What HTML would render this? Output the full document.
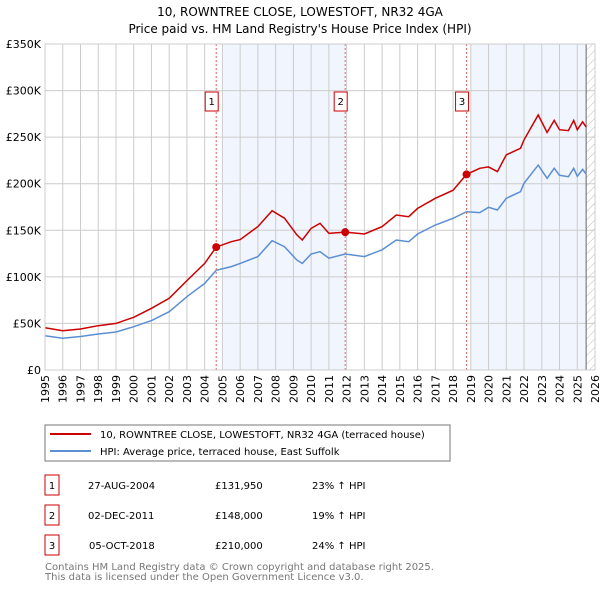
<!DOCTYPE html>
<html><head><meta charset="utf-8"><style>
body{margin:0;background:#fff;font-family:"DejaVu Sans","Liberation Sans",sans-serif;}
svg text{font-family:"DejaVu Sans","Liberation Sans",sans-serif;}
</style></head><body>
<svg id="c" width="600" height="590" xmlns="http://www.w3.org/2000/svg">
<defs><pattern id="hatch" width="6" height="6" patternUnits="userSpaceOnUse" patternTransform="rotate(45)"><line x1="0" y1="0" x2="0" y2="6" stroke="#bbb" stroke-width="1"/></pattern></defs>
<text x="300" y="16" text-anchor="middle" font-size="12">10, ROWNTREE CLOSE, LOWESTOFT, NR32 4GA</text>
<text x="300" y="33" text-anchor="middle" font-size="12">Price paid vs. HM Land Registry's House Price Index (HPI)</text>
<g id="bands"></g><g id="grid"></g><g id="series"></g><g id="markers"></g><g id="axes"></g>
<rect x="45" y="425" width="405" height="36" fill="#fff" stroke="#777"/>
<line x1="50" y1="434" x2="91" y2="434" stroke="#cc0000" stroke-width="2"/>
<text x="100" y="438" font-size="10">10, ROWNTREE CLOSE, LOWESTOFT, NR32 4GA (terraced house)</text>
<line x1="50" y1="451" x2="91" y2="451" stroke="#5b8fd4" stroke-width="2"/>
<text x="100" y="455" font-size="10">HPI: Average price, terraced house, East Suffolk</text>
<g font-size="10">
<rect x="45" y="475" width="14" height="20" fill="#fff" stroke="#cc0000"/><text x="52" y="489" text-anchor="middle">1</text>
<text x="88" y="489">27-AUG-2004</text><text x="215" y="489">£131,950</text><text x="312" y="489">23% ↑ HPI</text>
<rect x="45" y="505" width="14" height="20" fill="#fff" stroke="#cc0000"/><text x="52" y="519" text-anchor="middle">2</text>
<text x="88" y="519">02-DEC-2011</text><text x="215" y="519">£148,000</text><text x="312" y="519">19% ↑ HPI</text>
<rect x="45" y="535" width="14" height="20" fill="#fff" stroke="#cc0000"/><text x="52" y="549" text-anchor="middle">3</text>
<text x="89" y="549">05-OCT-2018</text><text x="215" y="549">£210,000</text><text x="312" y="549">24% ↑ HPI</text>
</g>
<text x="45" y="570" font-size="10" fill="#777">Contains HM Land Registry data © Crown copyright and database right 2025.</text>
<text x="45" y="580" font-size="10" fill="#777">This data is licensed under the Open Government Licence v3.0.</text>
</svg>
<script>
const years=[1995,1996,1997,1998,1999,2000,2001,2002,2003,2004,2004.65,2005.5,2006,2007,2007.8,2008.5,2009.2,2009.5,2010,2010.5,2011,2011.92,2013,2014,2014.8,2015.5,2016,2017,2018,2018.76,2019.5,2020,2020.5,2021,2021.8,2022,2022.8,2023.3,2023.7,2024,2024.5,2024.8,2025,2025.3,2025.5];
const hpiValues=[36.8,34,36,38.6,40.8,46.5,53,62.6,78.7,93,107,111,114.5,121.7,138.8,132.4,118,114.5,124.5,127,120,124.5,121.7,129,139.6,137.7,146,155.7,162.9,170,169,174.7,171.8,184.3,191.4,200.4,220,205.8,216.5,209,207.5,216.5,208,215.4,210.4];
const priceValues=[45.4,42.2,44,47.6,50,56.6,66.2,77,96,114.5,131.95,137.7,140,154,171,163,145,139.6,152,157.5,146.7,148,146,154,166.4,164.6,173.5,184.3,193,210,216.5,218,213,231,238,247,273.8,255,268,258,257,268,258,266.5,261];
const saleYears=[2004.65,2011.92,2018.76];
const salePrices=[131.95,148,210];
const saleLabels=["1","2","3"];
const yTicks=[0,50,100,150,200,250,300,350];
const yTickLabels=["£0","£50K","£100K","£150K","£200K","£250K","£300K","£350K"];
const xTicks=[1995,1996,1997,1998,1999,2000,2001,2002,2003,2004,2005,2006,2007,2008,2009,2010,2011,2012,2013,2014,2015,2016,2017,2018,2019,2020,2021,2022,2023,2024,2025,2026];
const dataEnd=2025.5;
const X0=45,X1=595,Y0=370,Y1=44;
const xs=y=>X0+(y-1995)/(2026-1995)*(X1-X0);
const ys=v=>Y0-v/350*(Y0-Y1);
const NS="http://www.w3.org/2000/svg";
function mk(tag,attrs,parent,text){const e=document.createElementNS(NS,tag);for(const k in attrs)e.setAttribute(k,attrs[k]);if(text!=null)e.textContent=text;document.getElementById(parent).appendChild(e);return e;}
// bands
let b=mk('rect',{x:xs(2005),y:Y1,width:xs(saleYears[1])-xs(2005),height:Y0-Y1,fill:'#eef3fc',opacity:0.8},'bands');


b=mk('rect',{x:xs(2019),y:Y1,width:xs(dataEnd)-xs(2019),height:Y0-Y1,fill:'#eef3fc',opacity:0.8},'bands');


b=mk('rect',{x:xs(dataEnd),y:Y1,width:X1-xs(dataEnd),height:Y0-Y1,fill:'url(#hatch)'},'bands');


// grid
xTicks.forEach(t=>{const l=mk('line',{x1:xs(t),x2:xs(t),y1:Y1,y2:Y0,stroke:'#ccc','stroke-width':1},'grid');


const tx=mk('text',{x:0,y:0,'font-size':11,'text-anchor':'end',transform:`translate(${xs(t)+4},${Y0+5}) rotate(-90)`},'axes',String(t));

});
yTicks.forEach((t,i)=>{const l=mk('line',{x1:X0,x2:X1,y1:ys(t),y2:ys(t),stroke:'#ccc','stroke-width':1},'grid');


const tx=mk('text',{x:X0-4,y:ys(t)+4,'font-size':11,'text-anchor':'end'},'axes',yTickLabels[i]);

});
let ln=mk('line',{x1:xs(dataEnd),x2:xs(dataEnd),y1:Y1,y2:Y0,stroke:'#666','stroke-width':1},'grid');


// series
const pts=a=>a.map((v,i)=>xs(years[i]).toFixed(1)+','+ys(v).toFixed(1)).join(' ');
let p=mk('polyline',{points:pts(hpiValues),fill:'none',stroke:'#5b8fd4','stroke-width':1.5},'series');


p=mk('polyline',{points:pts(priceValues),fill:'none',stroke:'#cc0000','stroke-width':1.5},'series');


// markers
saleYears.forEach((s,i)=>{
const l=mk('line',{x1:xs(s),x2:xs(s),y1:Y1,y2:Y0,stroke:'#e06060','stroke-width':1,'stroke-dasharray':'2,2'},'markers');


const c=mk('circle',{cx:xs(s),cy:ys(salePrices[i]),r:4,fill:'#cc0000'},'markers');


const r=mk('rect',{x:xs(s)-11,y:92,width:13,height:19,fill:'#fff',stroke:'#cc0000'},'markers');


const t=mk('text',{x:xs(s)-4.5,y:105,'font-size':10,'text-anchor':'middle'},'markers',saleLabels[i]);

});
let fr=mk('rect',{x:X0,y:Y1,width:X1-X0,height:Y0-Y1,fill:'none',stroke:'#ccc'},'axes');


</script>
</body></html>
